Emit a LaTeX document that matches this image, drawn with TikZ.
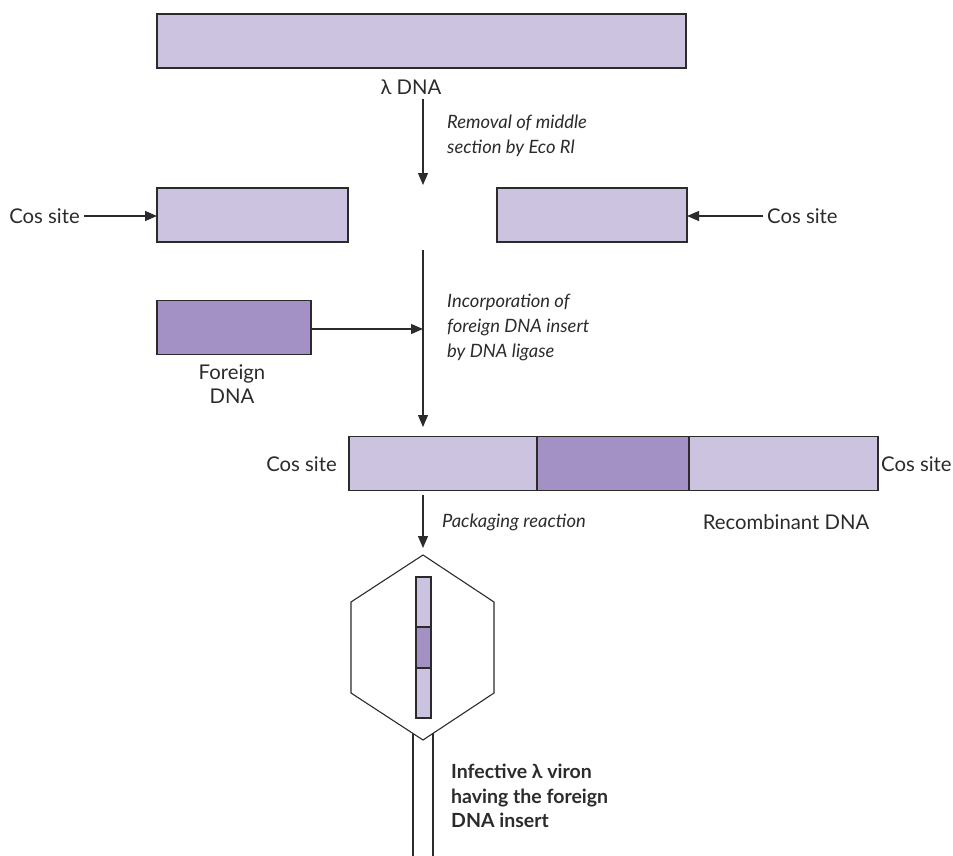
\documentclass[tikz,border=0pt]{standalone}
\usepackage{fontspec}
\setmainfont{Lato}
\usetikzlibrary{arrows.meta}

\definecolor{dnalight}{HTML}{CBC3DF}
\definecolor{dnadark}{HTML}{A391C5}
\definecolor{ink}{HTML}{2B2B2B}

\tikzset{
  seg/.style={draw=ink, line width=1.3pt, minimum height=54pt, inner sep=0pt, outer sep=0pt},
  lightseg/.style={seg, fill=dnalight},
  darkseg/.style={seg, fill=dnadark},
  flow/.style={draw=ink, line width=1.1pt, -{Triangle[length=12pt,width=10pt]}},
  lbl/.style={font=\fontsize{20.3}{24}\selectfont, text=ink, inner sep=2pt, align=center},
  note/.style={font=\fontsize{18.4}{25}\selectfont\itshape, text=ink, inner sep=2pt, align=left, anchor=west},
  boldnote/.style={font=\fontsize{19.5}{24.5}\selectfont\bfseries, text=ink, inner sep=2pt, align=left, anchor=west},
  shell/.style={draw=ink, line width=1.1pt, line join=miter},
}

\begin{document}
\begin{tikzpicture}[x=1pt,y=-1pt]
  \useasboundingbox (0,0) rectangle (953,856);

  % intact lambda genome
  \node[lightseg, minimum width=529pt] (lambda) at (421.5,41) {};
  \node[lbl] (lambdalbl) at (411,87) {λ DNA};

  % step 1: cut out the middle
  \coordinate (s1a) at (423,99);
  \coordinate (s1b) at (423,185);
  \draw[flow] (s1a) -- (s1b);
  \node[note] (s1txt) at (445,136) {Removal of middle\\section by Eco Rl};

  % the two arms
  \node[lightseg, minimum width=191pt] (armL) at (252.5,215) {};
  \node[lightseg, minimum width=190pt] (armR) at (592,215) {};
  \node[lbl, anchor=east, inner sep=4pt] (cosL) at (84,216) {Cos site};
  \node[lbl, anchor=west, inner sep=4pt] (cosR) at (763,216) {Cos site};
  \draw[flow] (cosL.east) -- (cosL.east -| armL.west);
  \draw[flow] (cosR.west) -- (cosR.west -| armR.east);

  % step 2: ligation of the insert
  \coordinate (s2a) at (423,250);
  \coordinate (s2b) at (423,427);
  \coordinate (join) at (423,329);
  \draw[flow] (s2a) -- (s2b);
  \node[darkseg, minimum width=154pt] (foreign) at (234,327.5) {};
  \node[lbl] (foreignlbl) at (232,384) {Foreign\\DNA};
  \draw[flow] (foreign.east |- join) -- (join);
  \node[note] (s2txt) at (445,327) {Incorporation of\\foreign DNA insert\\by DNA ligase};

  % recombinant molecule
  \node[lightseg, minimum width=188pt] (recL) at (443,463.5) {};
  \node[darkseg, minimum width=152pt] (recM) at (613,463.5) {};
  \node[lightseg, minimum width=189pt] (recR) at (783.5,463.5) {};
  \node[lbl, anchor=east] (cosL2) at (339,464) {Cos site};
  \node[lbl, anchor=west, inner sep=0pt] (cosR2) at (881,464) {Cos site};
  \node[lbl] (reclbl) at (786,522) {Recombinant DNA};

  % step 3: packaging
  \coordinate (s3a) at (423,495);
  \coordinate (s3b) at (423,548);
  \draw[flow] (s3a) -- (s3b);
  \node[note] (s3txt) at (440,522) {Packaging reaction};

  % phage head and tail
  \coordinate (hT) at (423,555);
  \coordinate (hUR) at (494,602);
  \coordinate (hLR) at (494,693);
  \coordinate (hB) at (423,740);
  \coordinate (hLL) at (351,693);
  \coordinate (hUL) at (351,602);
  \draw[shell] (hT) -- (hUR) -- (hLR) -- (hB) -- (hLL) -- (hUL) -- cycle;

  \coordinate (tLt) at (413,733.5);
  \coordinate (tLb) at (413,856);
  \coordinate (tRt) at (433,733.4);
  \coordinate (tRb) at (433,856);
  \draw[shell] (tLt) -- (tLb);
  \draw[shell] (tRt) -- (tRb);

  % packaged recombinant DNA
  \fill[dnalight, draw=ink, line width=1.1pt] (416,577) rectangle (431,627);
  \fill[dnadark, draw=ink, line width=1.1pt] (416,627) rectangle (431,668);
  \fill[dnalight, draw=ink, line width=1.1pt] (416,668) rectangle (431,718);

  \node[boldnote] (virlbl) at (449,796) {Infective λ viron\\having the foreign\\DNA insert};
\end{tikzpicture}
\end{document}
